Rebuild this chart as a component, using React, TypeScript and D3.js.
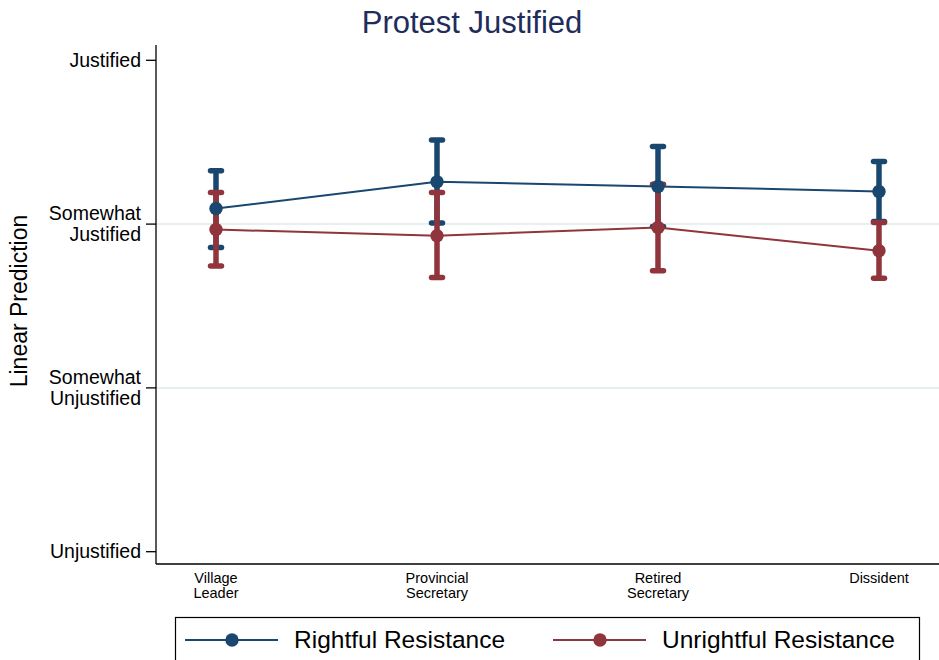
import React from 'react'
import * as d3 from 'd3'

const categories = [['Village', 'Leader'], ['Provincial', 'Secretary'], ['Retired', 'Secretary'], ['Dissident']]

const rightfulMean = [3.095, 3.258, 3.23, 3.199]
const rightfulLow = [2.857, 3.006, 2.985, 3.016]
const rightfulHigh = [3.326, 3.513, 3.474, 3.382]

const unrightfulMean = [2.967, 2.929, 2.979, 2.837]
const unrightfulLow = [2.744, 2.674, 2.715, 2.67]
const unrightfulHigh = [3.193, 3.193, 3.244, 3.01]

const yTickValues = [1, 2, 3, 4]
const yTickLabels = [['Unjustified'], ['Somewhat', 'Unjustified'], ['Somewhat', 'Justified'], ['Justified']]
const gridValues = [2, 3]

const seriesNames = ['Rightful Resistance', 'Unrightful Resistance']

const width = 939
const height = 660
const font = '"Liberation Sans", Helvetica, Arial, sans-serif'
const navy = '#1a476f'
const maroon = '#90353b'

export default function App() {
    /* Scales */
    const xScale = d3.scaleLinear().domain([0, 3]).range([216, 879])
    const yScale = d3.scaleLinear().domain([1, 4]).range([551.7, 60.3])

    const plotLeft = 156
    const plotRight = 939
    const plotTop = 45
    const plotBottom = 564

    const line = d3.line<number>()
        .x((d, i) => xScale(i))
        .y((d) => yScale(d))

    const series = [
        { name: seriesNames[0], color: navy, mean: rightfulMean, low: rightfulLow, high: rightfulHigh },
        { name: seriesNames[1], color: maroon, mean: unrightfulMean, low: unrightfulLow, high: unrightfulHigh },
    ]

    const capHalf = 5.5

    return (
        <svg width={width} height={height} style={{ position: 'absolute', left: 0, top: 0, background: '#fff' }}
            fontFamily={font}>
            <rect width={width} height={height} fill="#fff" />

            {/* Title */}
            <text x={472} y={33} textAnchor="middle" fontSize={31} fill="#1e2d5a">Protest Justified</text>

            {/* Grid */}
            {gridValues.map((v) => (
                <line key={v} x1={plotLeft} x2={plotRight} y1={yScale(v)} y2={yScale(v)}
                    stroke="#e6f0f1" strokeWidth={2} />
            ))}

            {/* Axes */}
            <line x1={plotLeft} x2={plotLeft} y1={plotTop} y2={plotBottom} stroke="#000" strokeWidth={1.3} />
            <line x1={plotLeft} x2={plotRight} y1={plotBottom} y2={plotBottom} stroke="#000" strokeWidth={1.3} />

            {yTickValues.map((v, i) => {
                const y = yScale(v)
                const lines = yTickLabels[i]
                return (
                    <g key={v}>
                        <line x1={146} x2={plotLeft} y1={y} y2={y} stroke="#000" strokeWidth={1.3} />
                        {lines.length === 1 ? (
                            <text x={141} y={y + 6.5} textAnchor="end" fontSize={19.5}>{lines[0]}</text>
                        ) : (
                            <>
                                <text x={141} y={y - 4} textAnchor="end" fontSize={19.5}>{lines[0]}</text>
                                <text x={141} y={y + 16.7} textAnchor="end" fontSize={19.5}>{lines[1]}</text>
                            </>
                        )}
                    </g>
                )
            })}

            {categories.map((c, i) => (
                <text key={i} x={xScale(i)} textAnchor="middle" fontSize={14.5}>
                    {c.map((t, j) => (
                        <tspan key={j} x={xScale(i)} y={583.3 + j * 14.5}>{t}</tspan>
                    ))}
                </text>
            ))}

            {/* Y axis title */}
            <text transform="translate(27,301) rotate(-90)" textAnchor="middle" fontSize={23}>Linear Prediction</text>

            {/* Confidence intervals */}
            {series.map((s) => (
                <g key={s.name + 'ci'} stroke={s.color} strokeWidth={5.5} strokeLinecap="round">
                    {s.mean.map((m, i) => (
                        <g key={i}>
                            <line x1={xScale(i)} x2={xScale(i)} y1={yScale(s.low[i])} y2={yScale(s.high[i])} strokeLinecap="butt" />
                            <line x1={xScale(i) - capHalf} x2={xScale(i) + capHalf} y1={yScale(s.low[i])} y2={yScale(s.low[i])} />
                            <line x1={xScale(i) - capHalf} x2={xScale(i) + capHalf} y1={yScale(s.high[i])} y2={yScale(s.high[i])} />
                        </g>
                    ))}
                </g>
            ))}

            {/* Lines and points */}
            {series.map((s) => (
                <g key={s.name}>
                    <path d={line(s.mean) || ''} fill="none" stroke={s.color} strokeWidth={2} />
                    {s.mean.map((m, i) => (
                        <circle key={i} cx={xScale(i)} cy={yScale(m)} r={6.7} fill={s.color} />
                    ))}
                </g>
            ))}

            {/* Legend */}
            <rect x={175.5} y={617.5} width={744} height={60} fill="#fff" stroke="#000" strokeWidth={1.2} />
            {series.map((s, i) => {
                const x0 = i === 0 ? 185 : 553
                return (
                    <g key={s.name + 'legend'}>
                        <line x1={x0} x2={x0 + 93} y1={640} y2={640} stroke={s.color} strokeWidth={2} />
                        <circle cx={x0 + 47} cy={640} r={6.7} fill={s.color} />
                        <text x={x0 + 109} y={648.3} fontSize={24.5}>{s.name}</text>
                    </g>
                )
            })}
        </svg>
    )
}
